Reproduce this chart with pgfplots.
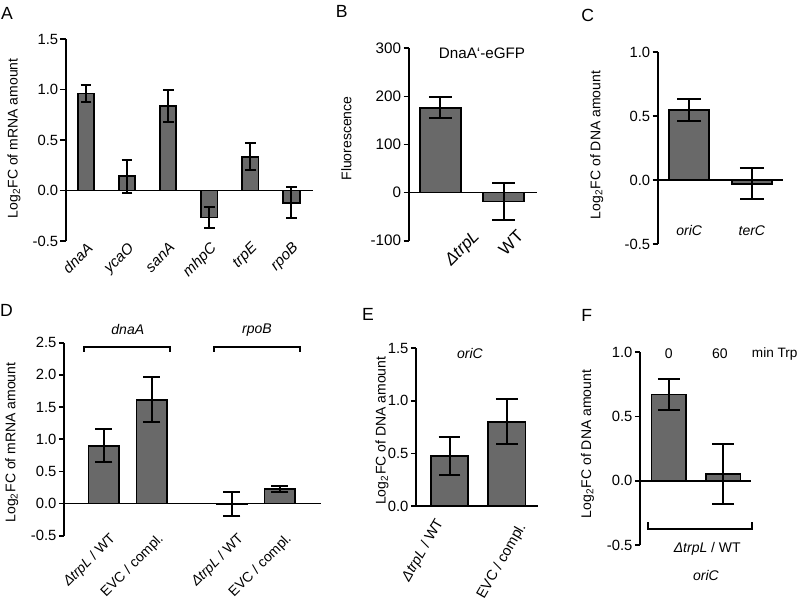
\documentclass[border=0pt]{standalone}
\usepackage{fontspec}
\setmainfont{Liberation Sans}
\usepackage{pgfplots}
\pgfplotsset{compat=1.18}
\definecolor{barfill}{RGB}{105,105,105}
\pgfplotsset{
  panel/.style={
    scale only axis, anchor=south west, clip=false,
    axis y line*=left, axis x line*=bottom,
    x axis line style={draw=none},
    y axis line style={line width=0.85pt, black},
    xtick style={draw=none},
    ytick style={line width=0.85pt, black},
    tick align=outside, major tick length=2.6pt,
    xtick=data,
    yticklabel style={font=\fontsize{7.4}{8.6}\selectfont, inner sep=1pt},
    label style={font=\fontsize{7}{8.4}\selectfont},
    ylabel style={anchor=center},
  },
  bars/.style 2 args={ybar, fill=barfill, draw=black, line width=0.9pt, bar width=#1,
    /pgfplots/error bars/y dir=both,
    /pgfplots/error bars/y explicit,
    /pgfplots/error bars/error bar style={line width=1pt, black, solid},
    /pgfplots/error bars/error mark options={rotate=90, line width=1pt, black, mark size=#2},
  },
  zeroline/.style={black, line width=0.85pt, forget plot, no markers},
}
\begin{document}
\fontsize{7}{8.4}\selectfont
\begin{tikzpicture}
\useasboundingbox (0,0) rectangle (400pt,301.5pt);
% ---------- A ----------
\begin{axis}[panel, at={(32.85pt,181pt)}, width=123.5pt, height=101pt,
  xmin=-0.494, xmax=5.516, ymin=-0.5, ymax=1.5,
  ytick={-0.5,0,0.5,1,1.5}, yticklabels={-0.5,0.0,0.5,1.0,1.5},
  xticklabels={dnaA,ycaO,sanA,mhpC,trpE,rpoB},
  xticklabel style={font=\fontsize{7.5}{8.5}\selectfont\itshape, xshift=0pt, yshift=4pt, rotate=45, anchor=north east, inner sep=1pt},
  ylabel={Log\textsubscript{2}FC of mRNA amount},
  ylabel style={at={(axis description cs:-0.209,0.508)}}]
\addplot[bars={8.2pt}{2.7pt}] coordinates {
 (0,0.96) +- (0,0.085)
 (1,0.14) +- (0,0.165)
 (2,0.84) +- (0,0.157)
 (3,-0.267) +- (0,0.1)
 (4,0.335) +- (0,0.135)
 (5,-0.12) +- (0,0.153)};
\addplot[zeroline] coordinates {(-0.494,0) (5.516,0)};
\end{axis}
% ---------- B ----------
\begin{axis}[panel, at={(204.35pt,181.15pt)}, width=64pt, height=96.2pt,
  xmin=-0.5, xmax=1.525, ymin=-100, ymax=300,
  ytick={-100,0,100,200,300}, yticklabels={-100,0,100,200,300},
  yticklabel style={font=\fontsize{7.6}{8.6}\selectfont},
  xticklabels={},
  ylabel={Fluorescence},
  ylabel style={at={(axis description cs:-0.486,0.531)}}]
\addplot[bars={20.5pt}{5.75pt}] coordinates {
 (0,176.5) +- (0,22)
 (1,-18.5) +- (0,38.5)};
\addplot[zeroline] coordinates {(-0.5,0) (1.525,0)};
\node[font=\fontsize{7.6}{8.6}\selectfont] at (axis cs:0.66,289) {DnaA‘-eGFP};
\begin{scope}[every node/.style={rotate=45, anchor=north east, inner sep=0.5pt, font=\fontsize{8.5}{9.5}\selectfont}]
\node at (axis cs:0.5,-72) {\textit{ΔtrpL}};
\node at (axis cs:1.2,-72) {WT};
\end{scope}
\end{axis}
% ---------- C ----------
\begin{axis}[panel, at={(328.85pt,179.35pt)}, width=62.65pt, height=96pt,
  xmin=-0.502, xmax=1.496, ymin=-0.5, ymax=1.0,
  ytick={-0.5,0,0.5,1}, yticklabels={-0.5,0.0,0.5,1.0},
  xticklabels={},
  ylabel={Log\textsubscript{2}FC of DNA amount},
  ylabel style={at={(axis description cs:-0.487,0.517)}}]
\addplot[bars={20pt}{6pt}] coordinates {
 (0,0.552) +- (0,0.085)
 (1,-0.026) +- (0,0.123)};
\addplot[zeroline] coordinates {(-0.502,0) (1.496,0)};
\node at (axis cs:0,-0.39) {\textit{oriC}};
\node at (axis cs:1,-0.39) {\textit{terC}};
\end{axis}
% ---------- D ----------
\begin{axis}[panel, at={(32pt,33.65pt)}, width=128.35pt, height=96.5pt,
  xmin=-0.829, xmax=4.519, ymin=-0.5, ymax=2.5,
  ytick={-0.5,0,0.5,1,1.5,2,2.5}, yticklabels={-0.5,0.0,0.5,1.0,1.5,2.0,2.5},
  xtick={0,1,2.667,3.667},
  xticklabels={\textit{ΔtrpL} / WT, EVC / compl., \textit{ΔtrpL} / WT, EVC / compl.},
  xticklabel style={font=\fontsize{7}{8.4}\selectfont, xshift=2.5pt, yshift=6pt, rotate=45, anchor=north east, inner sep=1pt},
  ylabel={Log\textsubscript{2}FC of mRNA amount},
  ylabel style={at={(axis description cs:-0.203,0.483)}}]
\addplot[bars={15.3pt}{4.25pt}] coordinates {
 (0,0.90) +- (0,0.256)
 (1,1.61) +- (0,0.35)
 (2.667,-0.01) +- (0,0.185)
 (3.667,0.228) +- (0,0.045)};
\addplot[zeroline] coordinates {(-0.829,0) (4.519,0)};
\draw[line width=0.85pt] (axis cs:-0.4125,2.36) -- (axis cs:-0.4125,2.438) -- (axis cs:1.379,2.438) -- (axis cs:1.379,2.36);
\draw[line width=0.85pt] (axis cs:2.29,2.36) -- (axis cs:2.29,2.438) -- (axis cs:4.09,2.438) -- (axis cs:4.09,2.36);
\node at (axis cs:0.5,2.70) {\textit{dnaA}};
\node at (axis cs:3.19,2.70) {\textit{rpoB}};
\end{axis}
% ---------- E ----------
\begin{axis}[panel, at={(208pt,48.5pt)}, width=61.15pt, height=78.85pt,
  xmin=-0.585, xmax=1.55, ymin=0, ymax=1.5,
  ytick={0,0.5,1,1.5}, yticklabels={0.0,0.5,1.0,1.5},
  xticklabels={},
  ylabel={Log\textsubscript{2}FC of DNA amount},
  ylabel style={at={(axis description cs:-0.278,0.477)}}]
\addplot[bars={18.7pt}{5.4pt}] coordinates {
 (0,0.475) +- (0,0.185)
 (1,0.80) +- (0,0.215)};
\addplot[zeroline] coordinates {(-0.585,0) (1.55,0)};
\node at (axis cs:0.358,1.455) {\textit{oriC}};
\begin{scope}[every node/.style={rotate=60, anchor=north east, inner sep=0.5pt, font=\fontsize{7.2}{8.4}\selectfont}]
\node at (axis cs:-0.27,-0.09) {\textit{ΔtrpL} / WT};
\node at (axis cs:1.17,-0.13) {EVC / compl.};
\end{scope}
\end{axis}
% ---------- F ----------
\begin{axis}[panel, at={(320pt,29pt)}, width=55.5pt, height=96.35pt,
  xmin=-0.527, xmax=1.51, ymin=-0.5, ymax=1.0,
  ytick={-0.5,0,0.5,1}, yticklabels={-0.5,0.0,0.5,1.0},
  xticklabels={},
  ylabel={Log\textsubscript{2}FC of DNA amount},
  ylabel style={at={(axis description cs:-0.473,0.524)}}]
\addplot[bars={17.2pt}{5.4pt}] coordinates {
 (0,0.671) +- (0,0.12)
 (1,0.054) +- (0,0.233)};
\addplot[zeroline] coordinates {(-0.527,0) (1.51,0)};
\draw[line width=0.85pt] (axis cs:-0.374,-0.322) -- (axis cs:-0.374,-0.377) -- (axis cs:1.534,-0.377) -- (axis cs:1.534,-0.322);
\node at (axis cs:0,0.989) {0};
\node at (axis cs:0.94,0.989) {60};
\node[anchor=west, inner sep=0pt, font=\fontsize{6.8}{8}\selectfont] at (axis cs:1.52,0.989) {min Trp};
\node at (axis cs:0.708,-0.53) {\textit{ΔtrpL} / WT};
\node at (axis cs:0.684,-0.737) {\textit{oriC}};
\end{axis}
% panel letters
\begin{scope}[every node/.style={font=\fontsize{8.8}{10}\selectfont}]
\node at (3.5pt,295pt) {A};
\node at (170.85pt,295.65pt) {B};
\node at (293.9pt,294pt) {C};
\node at (3.2pt,146.1pt) {D};
\node at (184pt,144.25pt) {E};
\node at (293.35pt,144pt) {F};
\end{scope}
\end{tikzpicture}
\end{document}
